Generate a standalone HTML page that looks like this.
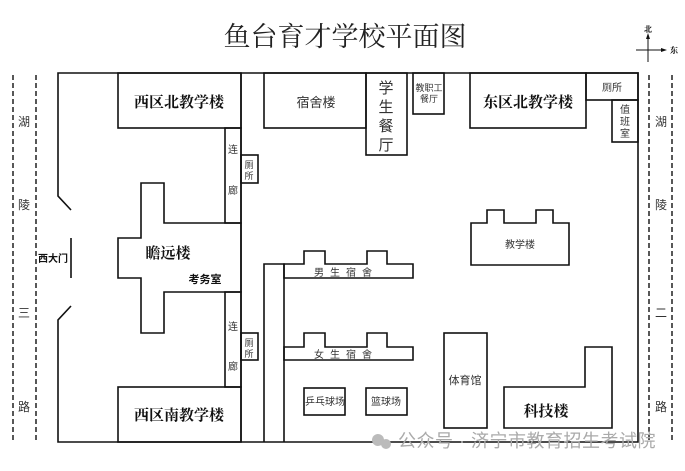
<!DOCTYPE html>
<html><head><meta charset="utf-8"><style>
body{margin:0;background:#fff;}
svg{display:block;font-family:"Liberation Serif","Noto Serif CJK SC","Noto Sans CJK SC",serif;}
.s{font-family:"Liberation Sans","Noto Sans CJK SC",sans-serif;}
</style></head><body>
<svg width="685" height="471" viewBox="0 0 685 471" xmlns="http://www.w3.org/2000/svg">
<g fill="none" stroke="#111" stroke-width="1.6">
<polyline points="71,210 58,196 58,73 638,73 638,442 58,442 58,320 71,306"/>
<line x1="71" y1="238" x2="71" y2="278"/>
<g stroke-dasharray="5,3" stroke-width="1.4">
<line x1="13" y1="75" x2="13" y2="442"/><line x1="36" y1="75" x2="36" y2="442"/>
<line x1="649" y1="75" x2="649" y2="442"/><line x1="672" y1="75" x2="672" y2="442"/>
</g>
<rect x="118" y="73" width="123" height="55"/>
<line x1="241" y1="73" x2="241" y2="442"/>
<rect x="225" y="128" width="16" height="95"/>
<rect x="241" y="155" width="17" height="28"/>
<polygon points="141,183 164,183 164,223 241,223 241,292 164,292 164,333 141,333 141,278 118,278 118,238 141,238"/>
<rect x="225" y="292" width="16" height="95"/>
<rect x="241" y="333" width="17" height="27"/>
<rect x="118" y="387" width="123" height="55"/>
<rect x="264" y="73" width="102" height="55"/>
<rect x="366" y="73" width="41" height="82"/>
<rect x="413" y="73" width="31" height="41"/>
<rect x="470" y="73" width="116" height="55"/>
<rect x="586" y="73" width="52" height="27"/>
<rect x="612" y="100" width="26" height="42"/>
<polyline points="264,442 264,264 284,264 284,442"/>
<polygon points="284,264 304,264 304,251 325,251 325,264 367,264 367,251 387,251 387,264 413,264 413,278 284,278"/>
<polygon points="284,347 304,347 304,333 325,333 325,347 367,347 367,333 387,333 387,347 413,347 413,360 284,360"/>
<rect x="304" y="388" width="41" height="27"/>
<rect x="366" y="388" width="41" height="27"/>
<polygon points="471,223 487,223 487,210 504,210 504,223 536,223 536,210 553,210 553,223 569,223 569,265 471,265"/>
<rect x="444" y="333" width="43" height="95"/>
<polygon points="504,387 585,387 585,347 612,347 612,428 504,428"/>
<line x1="648" y1="36" x2="648" y2="62" stroke-width="1"/>
<line x1="636" y1="50" x2="664" y2="50" stroke-width="1"/>
</g>
<polygon points="648,33 646,39 650,39" fill="#111"/>
<polygon points="667,50 661,48 661,52" fill="#111"/>
<text x="648" y="32" font-size="8" text-anchor="middle" font-weight="bold">北</text>
<text x="670" y="53" font-size="8" font-weight="bold">东</text>
<text x="345" y="46" font-size="27" text-anchor="middle" fill="#222">鱼台育才学校平面图</text>
<g font-size="15" font-weight="bold" text-anchor="middle" fill="#111">
<text x="179" y="107">西区北教学楼</text>
<text x="528" y="107">东区北教学楼</text>
<text x="179" y="420">西区南教学楼</text>
<text x="546" y="416">科技楼</text>
<text x="168" y="258">瞻远楼</text>
</g>
<g class="s" font-size="12" text-anchor="middle" fill="#333">
<text x="316" y="107" font-size="13">宿舍楼</text>
<text x="386" y="93" font-size="15">学</text><text x="386" y="112" font-size="15">生</text><text x="386" y="131" font-size="15">餐</text><text x="386" y="150" font-size="15">厅</text>
<text x="429" y="91" font-size="9">教职工</text><text x="429" y="102" font-size="9">餐厅</text>
<text x="612" y="91" font-size="10">厕所</text>
<text x="625" y="113" font-size="10">值</text><text x="625" y="125" font-size="10">班</text><text x="625" y="137" font-size="10">室</text>
<text x="233" y="153" font-size="10">连</text><text x="233" y="194" font-size="10">廊</text>
<text x="233" y="330" font-size="10">连</text><text x="233" y="370" font-size="10">廊</text>
<text x="249" y="168" font-size="9">厕</text><text x="249" y="179" font-size="9">所</text>
<text x="249" y="346" font-size="9">厕</text><text x="249" y="357" font-size="9">所</text>
<text x="205" y="283" font-size="11" font-weight="bold" fill="#111">考务室</text>
<text x="346" y="276" font-size="10" letter-spacing="6">男生宿舍</text>
<text x="346" y="358" font-size="10" letter-spacing="6">女生宿舍</text>
<text x="325" y="405" font-size="10">乒乓球场</text>
<text x="386" y="405" font-size="10">篮球场</text>
<text x="520" y="248" font-size="10">教学楼</text>
<text x="465" y="384" font-size="11">体育馆</text>
<text x="53" y="262" font-size="10" font-weight="bold" fill="#111">西大门</text>
<text x="24" y="126">湖</text><text x="24" y="209">陵</text><text x="24" y="317">三</text><text x="24" y="411">路</text>
<text x="661" y="126">湖</text><text x="661" y="209">陵</text><text x="661" y="317">二</text><text x="661" y="411">路</text>
</g>
<g fill="#bbb"><circle cx="378" cy="440" r="6"/><circle cx="386" cy="444" r="5"/></g>
<text class="s" x="398" y="447" font-size="18" letter-spacing="0.5" fill="#aaa">公众号 · 济宁市教育招生考试院</text>
</svg>
</body></html>
